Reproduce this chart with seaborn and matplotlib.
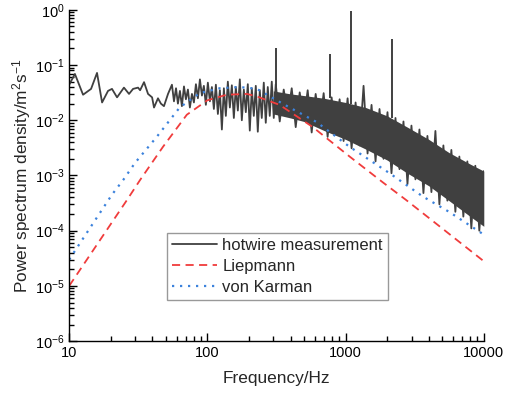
import matplotlib
matplotlib.use('Agg')
import matplotlib.pyplot as plt
import matplotlib.ticker as mticker
import numpy as np
import pandas as pd
import seaborn as sns

# hotwire spectrum, low frequency part (sparse points)
low_freq = [10.0, 11.0, 12.6, 14.4, 15.9, 17.3, 19.1, 20.4, 22.2, 24.9, 27.1, 29.0,
            31.5, 32.6, 34.8, 37.2, 39.8, 41.1, 43.9, 46.1, 48.5, 51.9]
low_psd = [0.044, 0.069, 0.029, 0.037, 0.072, 0.021, 0.034, 0.037, 0.026, 0.039, 0.030, 0.037,
           0.039, 0.035, 0.049, 0.030, 0.026, 0.017, 0.025, 0.020, 0.018, 0.030]

# hotwire spectrum, 55-300 Hz (noisy)
mid_freq = [55.4, 57.3, 59.3, 61.2, 63.3, 65.4, 67.7, 69.9, 72.3, 74.7, 77.3, 79.9,
            82.6, 85.4, 88.3, 91.3, 94.3, 97.5, 100.8, 104.3, 107.8, 111.4, 115.2, 119.1,
            123.1, 127.3, 131.6, 136.0, 140.6, 145.4, 150.3, 155.4, 160.6, 166.1, 171.7, 177.5,
            183.5, 189.7, 196.1, 202.7, 209.6, 216.7, 224.0, 231.6, 239.4, 247.5, 255.9, 264.5,
            273.5, 282.7, 292.3, 302.2]
mid_psd = [0.044, 0.022, 0.038, 0.020, 0.034, 0.018, 0.041, 0.024, 0.036, 0.017, 0.030, 0.021,
           0.045, 0.025, 0.055, 0.028, 0.042, 0.019, 0.048, 0.022, 0.040, 0.016, 0.044, 0.013,
           0.035, 0.0068, 0.038, 0.012, 0.050, 0.017, 0.043, 0.011, 0.040, 0.015, 0.055, 0.010,
           0.036, 0.014, 0.045, 0.0065, 0.038, 0.012, 0.042, 0.0062, 0.035, 0.011, 0.048, 0.009,
           0.040, 0.012, 0.050, 0.011]

# hotwire spectrum, 300-10000 Hz (dense band edges)
hf_freq = [312.4, 333.8, 356.8, 381.3, 407.6, 435.6, 465.6, 497.6, 531.8, 568.4, 607.4, 649.2,
           693.9, 741.3, 792.4, 846.9, 905.1, 967.4, 1034, 1105, 1181, 1262, 1349, 1442,
           1541, 1647, 1760, 1881, 2010, 2148, 2296, 2454, 2623, 2804, 2996, 3202,
           3422, 3658, 3909, 4178, 4466, 4773, 5101, 5452, 5826, 6227, 6655, 7113,
           7602, 8125, 8683, 9280, 10000]
hf_psd = [0.045, 0.0095, 0.036, 0.012, 0.038, 0.0075, 0.032, 0.010, 0.035, 0.0060, 0.030, 0.0080,
          0.031, 0.0050, 0.026, 0.0055, 0.024, 0.0042, 0.025, 0.0031, 0.021, 0.0035, 0.042, 0.0025,
          0.019, 0.0018, 0.016, 0.0020, 0.014, 0.0011, 0.011, 0.0013, 0.0095, 0.0007, 0.0080, 0.00085,
          0.0068, 0.00048, 0.0052, 0.0005, 0.0064, 0.0003, 0.0035, 0.00035, 0.0029, 0.00022, 0.0022, 0.00018,
          0.0018, 0.00011, 0.0015, 0.00010, 0.0012]

# solid core of the dense band
band_freq = [300, 400, 500, 700, 1000, 1400, 2000, 2800, 4000, 5600, 8000, 10000]
band_top = [0.034, 0.030, 0.028, 0.025, 0.021, 0.017, 0.012, 0.0075, 0.0045, 0.0026, 0.0016, 0.0012]
band_bottom = [0.013, 0.011, 0.0095, 0.0065, 0.0045, 0.0030, 0.0019, 0.0011, 0.00065, 0.00035,
               0.00018, 0.00012]

# narrow peaks
spike_freq = [313, 767, 1087, 2155]
spike_base = [0.03, 0.025, 0.02, 0.011]
spike_peak = [0.20, 0.16, 0.97, 0.30]

# model spectra
liep_freq = [10, 26.2, 32.6, 47.7, 71, 100, 138, 193, 228, 333, 576, 1070, 1860, 2740, 5000, 10000]
liep_psd = [1.0e-5, 3.6e-4, 8.3e-4, 3.3e-3, 0.0126, 0.023, 0.029, 0.030, 0.027, 0.019, 0.0076,
            0.0022, 7.5e-4, 3.6e-4, 1.1e-4, 2.8e-5]
vk_freq = [10, 20.4, 24.6, 30, 43, 63, 88, 123, 171, 228, 350, 616, 1070, 2080, 3600, 5600, 10000]
vk_psd = [3.0e-5, 4.5e-4, 8.3e-4, 1.7e-3, 5.0e-3, 0.017, 0.031, 0.038, 0.040, 0.037, 0.020,
          0.0093, 0.0033, 0.0011, 4.2e-4, 2.2e-4, 8.5e-5]

HOT = '#404040'
RED = '#f03c3c'
BLUE = '#3c82dc'

sns.set_style('ticks')
plt.rcParams['font.family'] = ['Liberation Sans', 'DejaVu Sans']
plt.rcParams['mathtext.fontset'] = 'custom'
plt.rcParams['mathtext.rm'] = 'Liberation Sans'
plt.rcParams['mathtext.it'] = 'Liberation Sans:italic'
plt.rcParams['mathtext.bf'] = 'Liberation Sans:bold'

fig, ax = plt.subplots(figsize=(5.05, 3.93), dpi=100)
fig.subplots_adjust(left=0.137, right=0.958, bottom=0.132, top=0.975)
ax.set(xscale='log', yscale='log')

meas = pd.DataFrame({
    'freq': low_freq + mid_freq + hf_freq,
    'psd': low_psd + mid_psd + hf_psd,
})
ax.fill_between(band_freq, band_bottom, band_top, color=HOT, linewidth=0)
ax.vlines(spike_freq, spike_base, spike_peak, color=HOT, linewidth=1.4)
sns.lineplot(data=meas, x='freq', y='psd', ax=ax, color=HOT, linewidth=1.3,
             sort=False, estimator=None, label='hotwire measurement')

sns.lineplot(x=liep_freq, y=liep_psd, ax=ax, color=RED, linewidth=1.3,
             sort=False, estimator=None, label='Liepmann', dashes=False)
ax.lines[-1].set_dashes((4.5, 3))
sns.lineplot(x=vk_freq, y=vk_psd, ax=ax, color=BLUE, linewidth=1.6,
             sort=False, estimator=None, label='von Karman', dashes=False)
ax.lines[-1].set_dashes((1, 2.6))

ax.set_xlim(10, 10000)
ax.set_ylim(1e-6, 1e0)
ax.xaxis.set_major_formatter(mticker.FuncFormatter(lambda v, p: f'{v:.0f}'))
ax.yaxis.set_minor_locator(mticker.LogLocator(base=10, subs=np.arange(2, 10), numticks=20))
ax.xaxis.set_minor_locator(mticker.LogLocator(base=10, subs=np.arange(2, 10), numticks=20))
ax.tick_params(which='both', direction='in', width=1.0, colors='black', labelsize=10.5)
ax.tick_params(which='major', length=6)
ax.tick_params(which='minor', length=3.5)
sns.despine(ax=ax)
for sp in ['left', 'bottom']:
    ax.spines[sp].set_linewidth(1.0)
    ax.spines[sp].set_color('black')

ax.set_xlabel('Frequency/Hz', fontsize=12.4, labelpad=8)
ax.set_ylabel('Power spectrum density/m$^2$s$^{-1}$', fontsize=12.4, labelpad=1)

leg = ax.legend(loc='upper left', bbox_to_anchor=(0.331, 0.407), bbox_transform=fig.transFigure,
                fontsize=12, frameon=True, fancybox=False, edgecolor='#808080',
                handlelength=2.7, handletextpad=0.3, labelspacing=0.35, borderpad=0.3,
                borderaxespad=0)
leg.get_frame().set_linewidth(1.0)

fig.savefig('out.png', dpi=100)
